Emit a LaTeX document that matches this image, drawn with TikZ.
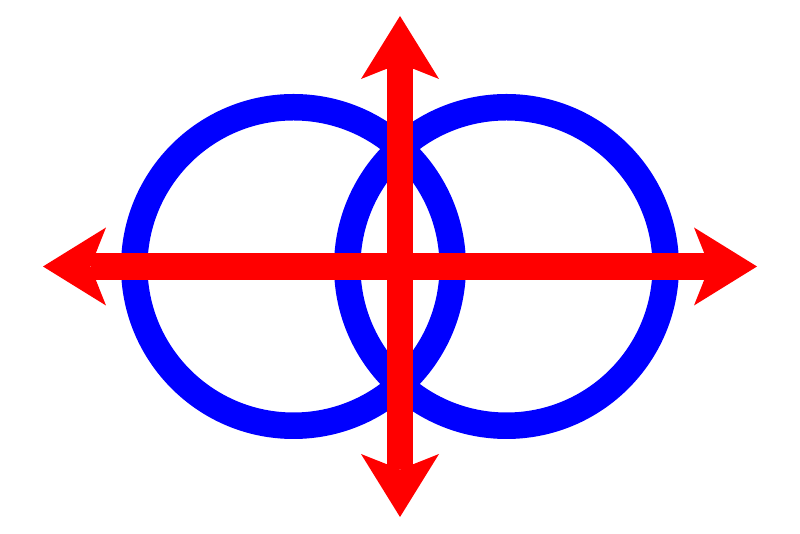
\documentclass[tikz,border=0pt]{standalone}
\usetikzlibrary{arrows.meta}
\begin{document}
\begin{tikzpicture}[x=1pt,y=1pt,
  ring/.style={circle,draw=blue,line width=26.5pt,minimum size=318.5pt,inner sep=0pt},
  redarrow/.style={draw=red,line width=26.5pt,
    {Stealth[length=63pt,width=78pt,inset=15.5pt,line width=0pt]}-{Stealth[length=63pt,width=78pt,inset=15.5pt,line width=0pt]}}]
\useasboundingbox (0,0) rectangle (800,534);
\node[ring] (L) at (293.5,267.5) {};
\node[ring] (R) at (506.5,267.5) {};
\coordinate (T) at (400,518);
\coordinate (B) at (400,17);
\coordinate (W) at (43,267.5);
\coordinate (E) at (757,267.5);
\draw[redarrow] (B) -- (T);
\draw[redarrow] (W) -- (E);
\end{tikzpicture}
\end{document}
